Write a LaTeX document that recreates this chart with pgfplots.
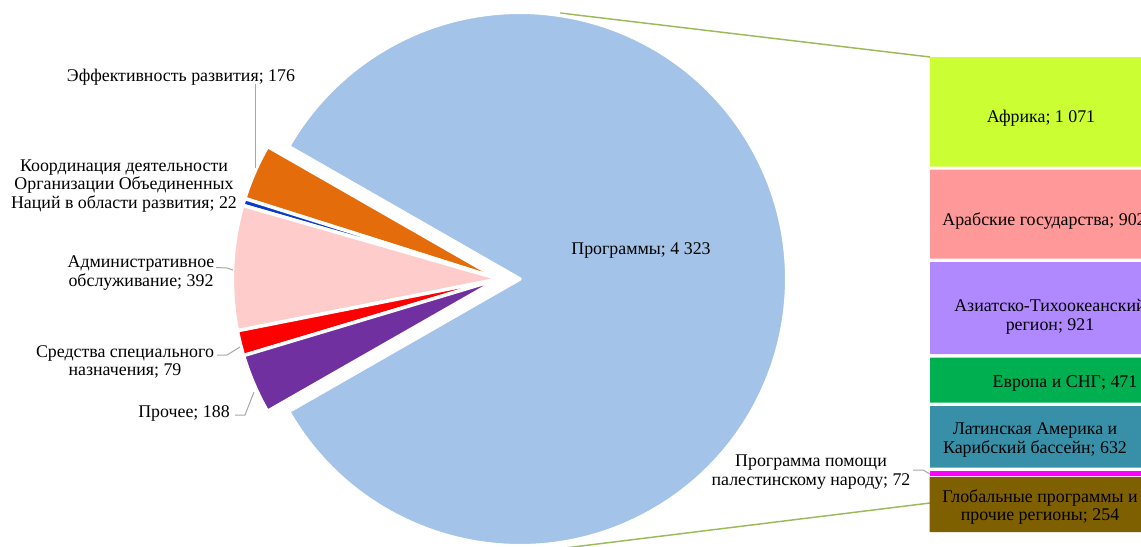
\documentclass[border=0pt]{standalone}
\usepackage{pgfplots}
\pgfplotsset{compat=1.18}
\usepackage{fontspec}
\setmainfont{Liberation Serif}

\definecolor{cProg}{HTML}{A3C3E8}
\definecolor{cOrange}{HTML}{E46C0A}
\definecolor{cBlue}{HTML}{0B3BC7}
\definecolor{cPink}{HTML}{FFCCCC}
\definecolor{cRed}{HTML}{FF0000}
\definecolor{cPurple}{HTML}{7030A0}
\definecolor{cAfr}{HTML}{CCFF33}
\definecolor{cArab}{HTML}{FF9999}
\definecolor{cAsia}{HTML}{B088FF}
\definecolor{cEur}{HTML}{00B050}
\definecolor{cLat}{HTML}{3790A8}
\definecolor{cPal}{HTML}{FF00FF}
\definecolor{cGlob}{HTML}{7F6000}
\definecolor{cConn}{HTML}{9BBB59}
\definecolor{cLead}{HTML}{A6A6A6}

\tikzset{lbl/.style={font=\fontsize{13.4}{14}\selectfont, inner sep=0pt, align=center}}

\begin{document}
\begin{tikzpicture}
% pie values: Программы 4323, then 176, 22, 392, 79, 188
\pgfmathsetmacro{\u}{360/(4323+176+22+392+79+188)}
\pgfmathsetmacro{\aA}{4323*\u/2}
\pgfmathsetmacro{\aB}{\aA+176*\u}
\pgfmathsetmacro{\aC}{\aB+22*\u}
\pgfmathsetmacro{\aD}{\aC+392*\u}
\pgfmathsetmacro{\aE}{\aD+79*\u}
\pgfmathsetmacro{\aF}{\aE+188*\u}
\def\R{200pt}
\begin{axis}[
  scale only axis, width=855.75pt, height=409.5pt,
  xmin=0, xmax=1141, ymin=0, ymax=546, y dir=reverse,
  hide axis, clip=true,
]
% connectors
\addplot[cConn, line width=1.1pt] coordinates {(560,13) (930,57)};
\addplot[cConn, line width=1.1pt] coordinates {(500,556) (930,503)};

% main slice
\fill[cProg, draw=white, line width=2.6pt, line join=round]
  (axis cs:520,279) -- ++(-\aA:\R) arc[start angle=-\aA, end angle=\aA, radius=\R] -- cycle;
% exploded group
\fill[cOrange, draw=white, line width=2.6pt, line join=round]
  (axis cs:499,279) -- ++(\aA:\R) arc[start angle=\aA, end angle=\aB, radius=\R] -- cycle;
\fill[cBlue, draw=white, line width=2.6pt, line join=round]
  (axis cs:499,279) -- ++(\aB:\R) arc[start angle=\aB, end angle=\aC, radius=\R] -- cycle;
\fill[cPink, draw=white, line width=2.6pt, line join=round]
  (axis cs:499,279) -- ++(\aC:\R) arc[start angle=\aC, end angle=\aD, radius=\R] -- cycle;
\fill[cRed, draw=white, line width=2.6pt, line join=round]
  (axis cs:499,279) -- ++(\aD:\R) arc[start angle=\aD, end angle=\aE, radius=\R] -- cycle;
\fill[cPurple, draw=white, line width=2.6pt, line join=round]
  (axis cs:499,279) -- ++(\aE:\R) arc[start angle=\aE, end angle=\aF, radius=\R] -- cycle;

% bar of Программы (4 323)
\addplot[fill=cAfr, draw=none] coordinates {(930,57) (1160,57) (1160,166.5) (930,166.5) (930,57)};
\addplot[fill=cArab, draw=none] coordinates {(930,169.5) (1160,169.5) (1160,258.5) (930,258.5) (930,169.5)};
\addplot[fill=cAsia, draw=none] coordinates {(930,262) (1160,262) (1160,354) (930,354) (930,262)};
\addplot[fill=cEur, draw=none] coordinates {(930,357.5) (1160,357.5) (1160,402.5) (930,402.5) (930,357.5)};
\addplot[fill=cLat, draw=none] coordinates {(930,406) (1160,406) (1160,467.5) (930,467.5) (930,406)};
\addplot[fill=cPal, draw=none] coordinates {(930,471) (1160,471) (1160,476) (930,476) (930,471)};
\addplot[fill=cGlob, draw=none] coordinates {(929.5,477) (1160,477) (1160,532) (929.5,532) (929.5,477)};

% leader lines
\addplot[cLead, line width=0.75pt] coordinates {(255,84) (255,168)};
\addplot[cLead, line width=0.75pt] coordinates {(216,267.5) (227,268) (233,270)};
\addplot[cLead, line width=0.75pt] coordinates {(217,355) (227,355) (240,347)};
\addplot[cLead, line width=0.75pt] coordinates {(235,415) (245,415) (254,392)};
\addplot[cLead, line width=0.75pt] coordinates {(913,470) (923,470) (930,474)};

% labels
\node[lbl] at (axis cs:181,77) {Эффективность развития; 176};
\node[lbl] at (axis cs:124,186) {Координация деятельности\\Организации Объединенных\\Наций в области развития; 22};
\node[lbl] at (axis cs:141,273) {Административное\\обслуживание; 392};
\node[lbl] at (axis cs:125,362) {Средства специального\\назначения; 79};
\node[lbl] at (axis cs:184,413) {Прочее; 188};
\node[lbl] at (axis cs:641,250) {Программы; 4 323};
\node[lbl] at (axis cs:811,472) {Программа помощи\\палестинскому народу; 72};

\node[lbl] at (axis cs:1041,118) {Африка; 1 071};
\node[lbl] at (axis cs:1044,221) {Арабские государства; 902};
\node[lbl] at (axis cs:1050,317) {Азиатско-Тихоокеанский\\регион; 921};
\node[lbl] at (axis cs:1065,383) {Европа и СНГ; 471};
\node[lbl] at (axis cs:1035,440) {Латинская Америка и\\Карибский бассейн; 632};
\node[lbl] at (axis cs:1040,507) {Глобальные программы и\\прочие регионы; 254};
\end{axis}
\pgfresetboundingbox
\path (0,0) rectangle (855.75pt,409.5pt);
\end{tikzpicture}
\end{document}
